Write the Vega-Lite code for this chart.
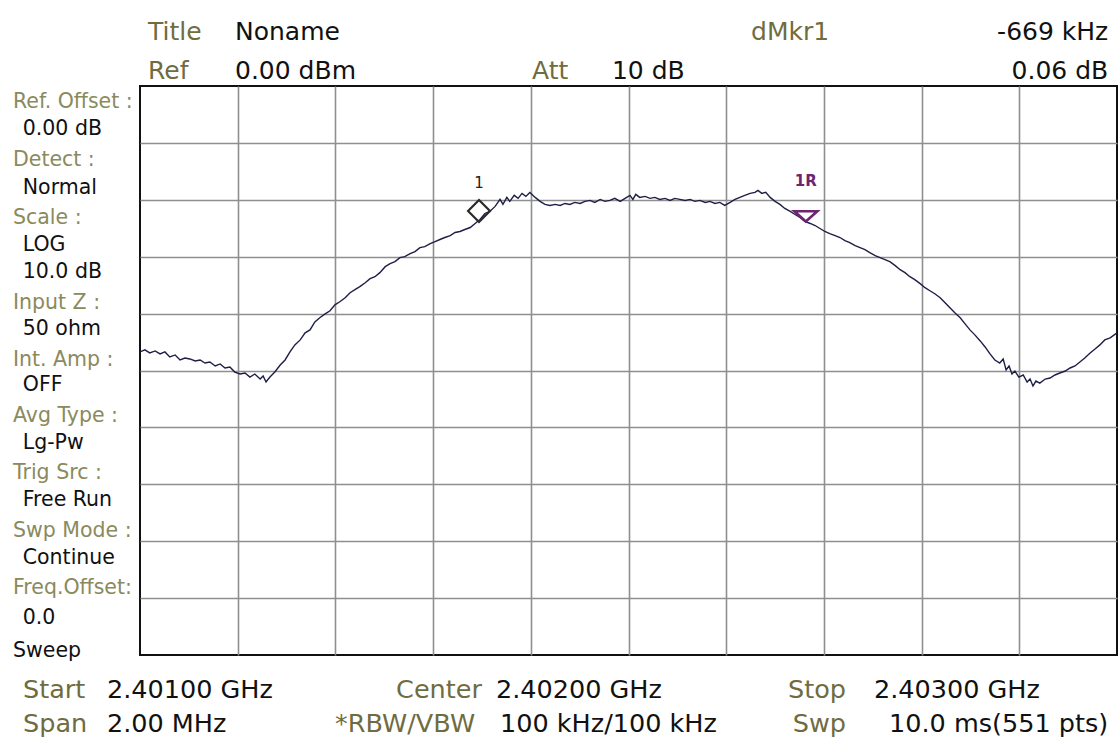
{
  "$schema": "https://vega.github.io/schema/vega-lite/v6.json",
  "width": 977,
  "height": 569,
  "autosize": {"type": "none"},
  "padding": {"left": 140, "top": 86, "right": 3, "bottom": 83},
  "background": "white",
  "config": {
    "view": {"stroke": "#111111", "strokeWidth": 2},
    "font": "DejaVu Sans",
    "text": {"font": "DejaVu Sans", "baseline": "alphabetic"}
  },
  "datasets": {
    "trace": [
      {"f":2401.000,"db":-46.74},{"f":2401.010,"db":-46.38},{"f":2401.020,"db":-46.91},{"f":2401.031,"db":-46.56},{"f":2401.041,"db":-47.09},{"f":2401.051,"db":-46.74},{"f":2401.061,"db":-47.62},{"f":2401.072,"db":-47.27},{"f":2401.082,"db":-48.15},{"f":2401.092,"db":-47.80},{"f":2401.102,"db":-47.97},{"f":2401.113,"db":-48.33},{"f":2401.123,"db":-48.15},{"f":2401.133,"db":-48.68},{"f":2401.143,"db":-48.50},{"f":2401.154,"db":-49.21},{"f":2401.164,"db":-48.85},{"f":2401.174,"db":-49.56},{"f":2401.184,"db":-49.38},{"f":2401.194,"db":-50.27},{"f":2401.205,"db":-50.62},{"f":2401.215,"db":-50.44},{"f":2401.225,"db":-51.15},{"f":2401.235,"db":-50.62},{"f":2401.246,"db":-51.50},{"f":2401.252,"db":-50.97},{"f":2401.258,"db":-52.03},{"f":2401.266,"db":-51.15},{"f":2401.276,"db":-50.27},{"f":2401.287,"db":-49.03},{"f":2401.297,"db":-48.15},{"f":2401.307,"db":-46.74},{"f":2401.317,"db":-45.50},{"f":2401.328,"db":-44.62},{"f":2401.338,"db":-43.39},{"f":2401.348,"db":-42.86},{"f":2401.358,"db":-41.45},{"f":2401.368,"db":-40.74},{"f":2401.379,"db":-40.04},{"f":2401.389,"db":-39.51},{"f":2401.399,"db":-38.45},{"f":2401.409,"db":-37.92},{"f":2401.420,"db":-37.21},{"f":2401.430,"db":-36.33},{"f":2401.440,"db":-35.80},{"f":2401.450,"db":-35.27},{"f":2401.461,"db":-34.57},{"f":2401.471,"db":-33.86},{"f":2401.481,"db":-33.51},{"f":2401.491,"db":-32.80},{"f":2401.502,"db":-31.75},{"f":2401.512,"db":-31.22},{"f":2401.522,"db":-30.86},{"f":2401.532,"db":-30.16},{"f":2401.542,"db":-29.98},{"f":2401.553,"db":-29.45},{"f":2401.563,"db":-29.10},{"f":2401.573,"db":-28.40},{"f":2401.583,"db":-28.22},{"f":2401.594,"db":-27.69},{"f":2401.604,"db":-27.34},{"f":2401.614,"db":-26.98},{"f":2401.624,"db":-26.63},{"f":2401.635,"db":-26.28},{"f":2401.645,"db":-25.75},{"f":2401.655,"db":-25.57},{"f":2401.665,"db":-25.22},{"f":2401.676,"db":-24.87},{"f":2401.686,"db":-24.16},{"f":2401.696,"db":-23.46},{"f":2401.706,"db":-22.40},{"f":2401.716,"db":-22.05},{"f":2401.727,"db":-21.16},{"f":2401.737,"db":-19.93},{"f":2401.743,"db":-20.81},{"f":2401.751,"db":-19.58},{"f":2401.757,"db":-20.28},{"f":2401.766,"db":-19.22},{"f":2401.774,"db":-19.75},{"f":2401.782,"db":-18.87},{"f":2401.790,"db":-19.40},{"f":2401.798,"db":-18.70},{"f":2401.809,"db":-19.58},{"f":2401.819,"db":-20.28},{"f":2401.829,"db":-20.81},{"f":2401.839,"db":-20.99},{"f":2401.850,"db":-20.81},{"f":2401.860,"db":-20.99},{"f":2401.870,"db":-20.64},{"f":2401.880,"db":-20.81},{"f":2401.890,"db":-20.46},{"f":2401.901,"db":-20.64},{"f":2401.911,"db":-20.28},{"f":2401.921,"db":-20.11},{"f":2401.931,"db":-20.46},{"f":2401.942,"db":-19.93},{"f":2401.952,"db":-20.28},{"f":2401.962,"db":-20.11},{"f":2401.972,"db":-19.75},{"f":2401.983,"db":-20.28},{"f":2401.993,"db":-19.75},{"f":2402.003,"db":-19.22},{"f":2402.009,"db":-19.93},{"f":2402.015,"db":-19.05},{"f":2402.023,"db":-19.58},{"f":2402.034,"db":-19.40},{"f":2402.044,"db":-19.75},{"f":2402.054,"db":-19.58},{"f":2402.064,"db":-19.93},{"f":2402.075,"db":-19.75},{"f":2402.085,"db":-20.11},{"f":2402.095,"db":-19.75},{"f":2402.105,"db":-19.93},{"f":2402.116,"db":-20.11},{"f":2402.126,"db":-19.93},{"f":2402.136,"db":-20.28},{"f":2402.146,"db":-20.11},{"f":2402.157,"db":-20.46},{"f":2402.167,"db":-20.28},{"f":2402.177,"db":-20.64},{"f":2402.187,"db":-20.46},{"f":2402.197,"db":-20.99},{"f":2402.208,"db":-20.46},{"f":2402.218,"db":-19.93},{"f":2402.228,"db":-19.58},{"f":2402.238,"db":-19.22},{"f":2402.249,"db":-18.87},{"f":2402.259,"db":-18.70},{"f":2402.265,"db":-18.34},{"f":2402.273,"db":-18.87},{"f":2402.281,"db":-18.70},{"f":2402.290,"db":-19.58},{"f":2402.300,"db":-20.28},{"f":2402.310,"db":-20.81},{"f":2402.320,"db":-21.52},{"f":2402.331,"db":-22.05},{"f":2402.341,"db":-22.58},{"f":2402.351,"db":-23.10},{"f":2402.361,"db":-23.81},{"f":2402.372,"db":-24.16},{"f":2402.382,"db":-24.52},{"f":2402.392,"db":-25.04},{"f":2402.402,"db":-25.57},{"f":2402.412,"db":-25.93},{"f":2402.423,"db":-26.28},{"f":2402.433,"db":-26.63},{"f":2402.443,"db":-27.16},{"f":2402.453,"db":-27.51},{"f":2402.464,"db":-28.04},{"f":2402.474,"db":-28.40},{"f":2402.484,"db":-28.75},{"f":2402.494,"db":-29.28},{"f":2402.505,"db":-29.81},{"f":2402.515,"db":-30.16},{"f":2402.525,"db":-30.51},{"f":2402.535,"db":-30.86},{"f":2402.546,"db":-31.57},{"f":2402.556,"db":-32.28},{"f":2402.566,"db":-32.80},{"f":2402.576,"db":-33.51},{"f":2402.586,"db":-34.04},{"f":2402.597,"db":-34.74},{"f":2402.607,"db":-35.45},{"f":2402.617,"db":-35.98},{"f":2402.627,"db":-36.51},{"f":2402.638,"db":-37.21},{"f":2402.648,"db":-38.10},{"f":2402.658,"db":-38.98},{"f":2402.668,"db":-39.86},{"f":2402.679,"db":-40.74},{"f":2402.689,"db":-41.80},{"f":2402.699,"db":-42.86},{"f":2402.709,"db":-43.74},{"f":2402.720,"db":-44.80},{"f":2402.730,"db":-45.86},{"f":2402.740,"db":-47.09},{"f":2402.750,"db":-48.15},{"f":2402.760,"db":-48.68},{"f":2402.767,"db":-47.97},{"f":2402.773,"db":-49.91},{"f":2402.779,"db":-49.21},{"f":2402.785,"db":-50.62},{"f":2402.791,"db":-50.09},{"f":2402.799,"db":-51.15},{"f":2402.808,"db":-50.79},{"f":2402.816,"db":-52.03},{"f":2402.822,"db":-51.50},{"f":2402.828,"db":-52.73},{"f":2402.834,"db":-51.85},{"f":2402.842,"db":-52.21},{"f":2402.853,"db":-51.50},{"f":2402.863,"db":-51.32},{"f":2402.873,"db":-50.79},{"f":2402.883,"db":-50.44},{"f":2402.894,"db":-50.09},{"f":2402.904,"db":-49.56},{"f":2402.914,"db":-49.21},{"f":2402.924,"db":-48.50},{"f":2402.934,"db":-47.80},{"f":2402.945,"db":-46.91},{"f":2402.955,"db":-46.21},{"f":2402.965,"db":-45.50},{"f":2402.975,"db":-44.62},{"f":2402.986,"db":-44.27},{"f":2403.000,"db":-43.39}
    ],
    "markers": [
      {"name": "1", "f": 2401.694, "db": -23.73},
      {"name": "1R", "f": 2402.363, "db": -23.79}
    ],
    "labels": [
      {"role": "hk", "text": "Title", "f": 2401.0164, "db": 8.08},
      {"role": "hk", "text": "Ref", "f": 2401.0164, "db": 1.23},
      {"role": "hk", "text": "Att", "f": 2401.8025, "db": 1.23},
      {"role": "hk", "text": "dMkr1", "f": 2402.251, "db": 8.08},
      {"role": "hv", "text": "Noname", "f": 2401.1945, "db": 8.08},
      {"role": "hv", "text": "0.00 dBm", "f": 2401.1945, "db": 1.23},
      {"role": "hv", "text": "10 dB", "f": 2401.966, "db": 1.23},
      {"role": "hvr", "text": "-669 kHz", "f": 2402.982, "db": 8.08},
      {"role": "hvr", "text": "0.06 dB", "f": 2402.982, "db": 1.23},
      {"role": "fkl", "text": "Start", "f": 2400.7605, "db": -107.56},
      {"role": "fkl", "text": "Span", "f": 2400.7605, "db": -113.53},
      {"role": "fkr", "text": "Center", "f": 2401.700, "db": -107.56},
      {"role": "fkr", "text": "*RBW/VBW", "f": 2401.686, "db": -113.53},
      {"role": "fkr", "text": "Stop", "f": 2402.4452, "db": -107.56},
      {"role": "fkr", "text": "Swp", "f": 2402.4452, "db": -113.53},
      {"role": "fv", "text": "2.40100 GHz", "f": 2400.9324, "db": -107.56},
      {"role": "fv", "text": "2.00 MHz", "f": 2400.9324, "db": -113.53},
      {"role": "fv", "text": "2.40200 GHz", "f": 2401.7288, "db": -107.56},
      {"role": "fv", "text": "100 kHz/100 kHz", "f": 2401.737, "db": -113.53},
      {"role": "fv", "text": "2.40300 GHz", "f": 2402.5026, "db": -107.56},
      {"role": "fv", "text": "10.0 ms(551 pts)", "f": 2402.5333, "db": -113.53},
      {"role": "sk", "text": "Ref. Offset :", "f": 2400.740, "db": -3.87},
      {"role": "sv", "text": "0.00 dB", "f": 2400.760, "db": -8.61},
      {"role": "sk", "text": "Detect :", "f": 2400.740, "db": -14.06},
      {"role": "sv", "text": "Normal", "f": 2400.760, "db": -18.98},
      {"role": "sk", "text": "Scale :", "f": 2400.740, "db": -24.25},
      {"role": "sv", "text": "LOG", "f": 2400.760, "db": -29.00},
      {"role": "sv", "text": "10.0 dB", "f": 2400.760, "db": -33.74},
      {"role": "sk", "text": "Input Z :", "f": 2400.740, "db": -39.19},
      {"role": "sv", "text": "50 ohm", "f": 2400.760, "db": -43.76},
      {"role": "sk", "text": "Int. Amp :", "f": 2400.740, "db": -49.21},
      {"role": "sv", "text": "OFF", "f": 2400.760, "db": -53.60},
      {"role": "sk", "text": "Avg Type :", "f": 2400.740, "db": -59.05},
      {"role": "sv", "text": "Lg-Pw", "f": 2400.760, "db": -63.80},
      {"role": "sk", "text": "Trig Src :", "f": 2400.740, "db": -69.07},
      {"role": "sv", "text": "Free Run", "f": 2400.760, "db": -73.81},
      {"role": "sk", "text": "Swp Mode :", "f": 2400.740, "db": -79.26},
      {"role": "sv", "text": "Continue", "f": 2400.760, "db": -84.01},
      {"role": "sk", "text": "Freq.Offset:", "f": 2400.740, "db": -89.28},
      {"role": "sv", "text": "0.0", "f": 2400.760, "db": -94.55},
      {"role": "sv", "text": "Sweep", "f": 2400.740, "db": -100.35}
    ]
  },
  "layer": [
    {
      "data": {"name": "trace"},
      "mark": {"type": "line", "color": "#1e1e46", "strokeWidth": 1.4, "clip": true},
      "encoding": {
        "x": {
          "field": "f", "type": "quantitative",
          "scale": {"domain": [2401, 2403], "nice": false, "zero": false},
          "axis": {"title": null, "labels": false, "ticks": false, "domain": false, "grid": true,
                   "gridColor": "#8f8f8f", "gridWidth": 1.6, "gridOpacity": 1,
                   "values": [2401.2, 2401.4, 2401.6, 2401.8, 2402.0, 2402.2, 2402.4, 2402.6, 2402.8]}
        },
        "y": {
          "field": "db", "type": "quantitative",
          "scale": {"domain": [-100, 0], "nice": false, "zero": false},
          "axis": {"title": null, "labels": false, "ticks": false, "domain": false, "grid": true,
                   "gridColor": "#8f8f8f", "gridWidth": 1.6, "gridOpacity": 1,
                   "values": [-90, -80, -70, -60, -50, -40, -30, -20, -10]}
        }
      }
    },
    {
      "data": {"name": "markers"},
      "transform": [{"filter": "datum.name === '1'"}],
      "mark": {"type": "point", "shape": "diamond", "size": 480, "filled": false, "stroke": "#2a2a2a", "strokeWidth": 2.2, "opacity": 1, "yOffset": -10},
      "encoding": {"x": {"field": "f", "type": "quantitative"}, "y": {"field": "db", "type": "quantitative"}}
    },
    {
      "data": {"name": "markers"},
      "transform": [{"filter": "datum.name === '1R'"}],
      "mark": {"type": "point", "shape": "M-1,-0.45L1,-0.45L0,0.45Z", "size": 529, "filled": false, "stroke": "#6e2470", "strokeWidth": 2.6, "opacity": 1, "yOffset": -5},
      "encoding": {"x": {"field": "f", "type": "quantitative"}, "y": {"field": "db", "type": "quantitative"}}
    },
    {
      "data": {"name": "markers"},
      "transform": [{"filter": "datum.name === '1'"}],
      "mark": {"type": "text", "fontSize": 15, "color": "#222222", "align": "center", "dy": -33},
      "encoding": {"x": {"field": "f", "type": "quantitative"}, "y": {"field": "db", "type": "quantitative"}, "text": {"field": "name"}}
    },
    {
      "data": {"name": "markers"},
      "transform": [{"filter": "datum.name === '1R'"}],
      "mark": {"type": "text", "fontSize": 15, "fontWeight": "bold", "color": "#6e2470", "align": "center", "dy": -35},
      "encoding": {"x": {"field": "f", "type": "quantitative"}, "y": {"field": "db", "type": "quantitative"}, "text": {"field": "name"}}
    },
    {
      "data": {"name": "labels"},
      "transform": [{"filter": "datum.role === 'hk'"}],
      "mark": {"type": "text", "fontSize": 25, "color": "#6f6c40", "align": "left"},
      "encoding": {"x": {"field": "f", "type": "quantitative"}, "y": {"field": "db", "type": "quantitative"}, "text": {"field": "text"}}
    },
    {
      "data": {"name": "labels"},
      "transform": [{"filter": "datum.role === 'hv'"}],
      "mark": {"type": "text", "fontSize": 25, "color": "#111111", "align": "left"},
      "encoding": {"x": {"field": "f", "type": "quantitative"}, "y": {"field": "db", "type": "quantitative"}, "text": {"field": "text"}}
    },
    {
      "data": {"name": "labels"},
      "transform": [{"filter": "datum.role === 'hvr'"}],
      "mark": {"type": "text", "fontSize": 25, "color": "#111111", "align": "right"},
      "encoding": {"x": {"field": "f", "type": "quantitative"}, "y": {"field": "db", "type": "quantitative"}, "text": {"field": "text"}}
    },
    {
      "data": {"name": "labels"},
      "transform": [{"filter": "datum.role === 'fkl'"}],
      "mark": {"type": "text", "fontSize": 25.5, "color": "#6f6c40", "align": "left"},
      "encoding": {"x": {"field": "f", "type": "quantitative"}, "y": {"field": "db", "type": "quantitative"}, "text": {"field": "text"}}
    },
    {
      "data": {"name": "labels"},
      "transform": [{"filter": "datum.role === 'fkr'"}],
      "mark": {"type": "text", "fontSize": 25.5, "color": "#6f6c40", "align": "right"},
      "encoding": {"x": {"field": "f", "type": "quantitative"}, "y": {"field": "db", "type": "quantitative"}, "text": {"field": "text"}}
    },
    {
      "data": {"name": "labels"},
      "transform": [{"filter": "datum.role === 'fv'"}],
      "mark": {"type": "text", "fontSize": 25.5, "color": "#111111", "align": "left"},
      "encoding": {"x": {"field": "f", "type": "quantitative"}, "y": {"field": "db", "type": "quantitative"}, "text": {"field": "text"}}
    },
    {
      "data": {"name": "labels"},
      "transform": [{"filter": "datum.role === 'sk'"}],
      "mark": {"type": "text", "fontSize": 20.5, "color": "#8a8a5c", "align": "left"},
      "encoding": {"x": {"field": "f", "type": "quantitative"}, "y": {"field": "db", "type": "quantitative"}, "text": {"field": "text"}}
    },
    {
      "data": {"name": "labels"},
      "transform": [{"filter": "datum.role === 'sv'"}],
      "mark": {"type": "text", "fontSize": 20.5, "color": "#111111", "align": "left"},
      "encoding": {"x": {"field": "f", "type": "quantitative"}, "y": {"field": "db", "type": "quantitative"}, "text": {"field": "text"}}
    }
  ]
}
